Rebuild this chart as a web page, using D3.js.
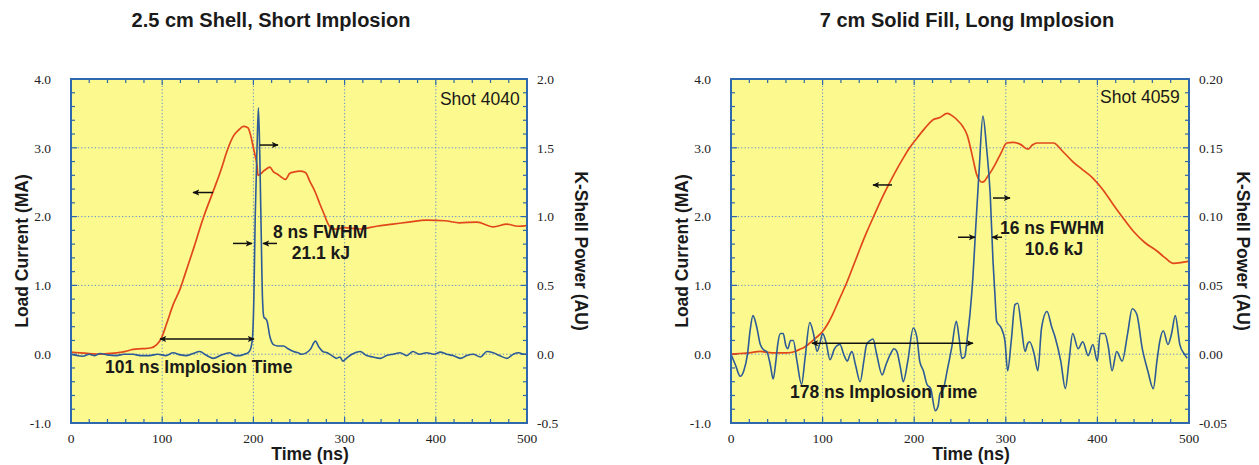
<!DOCTYPE html>
<html><head><meta charset="utf-8">
<script src="https://cdn.jsdelivr.net/npm/d3@7"></script>
<style>html,body{margin:0;padding:0;background:#fff;}svg{display:block;}</style>
</head><body>
<svg id="chart" width="1259" height="465"></svg>
<script>
// ---------------- DATA ----------------
const titles = ["2.5 cm Shell, Short Implosion", "7 cm Solid Fill, Long Implosion"];
const shotLabels = ["Shot 4040", "Shot 4059"];
const xTicks = [0, 100, 200, 300, 400, 500];
const xTickLabels = ["0", "100", "200", "300", "400", "500"];
const leftTicks = [-1, 0, 1, 2, 3, 4];
const leftTickLabels = ["-1.0", "0.0", "1.0", "2.0", "3.0", "4.0"];
const rightTicksA = [-0.5, 0, 0.5, 1.0, 1.5, 2.0];
const rightTickLabelsA = ["-0.5", "0.0", "0.5", "1.0", "1.5", "2.0"];
const rightTicksB = [-0.05, 0, 0.05, 0.10, 0.15, 0.20];
const rightTickLabelsB = ["-0.05", "0.00", "0.05", "0.10", "0.15", "0.20"];

// Shot 4040: load current (MA) vs time (ns)
const currentA = [[0,0.03],[10,0.02],[20,0.01],[30,0.0],[40,0.01],[50,0.02],[60,0.04],[68,0.07],[78,0.08],[87,0.09],
 [94,0.14],[99,0.23],[105,0.45],[112,0.72],[120,0.96],[125,1.16],[135,1.56],[145,1.98],[156,2.37],[165,2.70],
 [171,2.95],[178,3.17],[184,3.26],[189,3.31],[194,3.29],[197,3.18],[200,3.0],[202,2.88],[204,2.74],[205,2.60],
 [208,2.62],[211,2.66],[215,2.70],[218,2.72],[222,2.65],[226,2.62],[230,2.58],[235,2.54],[240,2.63],[245,2.65],
 [251,2.66],[257,2.64],[262,2.51],[268,2.35],[273,2.18],[278,2.02],[282,1.89],[287,1.82],[292,1.82],[300,1.84],
 [317,1.82],[335,1.86],[353,1.89],[370,1.92],[390,1.95],[410,1.94],[426,1.91],[445,1.92],[463,1.85],[478,1.89],
 [490,1.86],[500,1.87]];
// Shot 4040: K-shell power (AU)
const powerA = [[0,0.0],[6,-0.01],[13,-0.015],[20,0.0],[26,-0.01],[32,0.005],[40,-0.005],[50,-0.01],[58,0.0],[68,0.0],
 [76,-0.01],[86,-0.01],[95,0.0],[104,-0.01],[112,0.01],[120,-0.005],[127,-0.01],[134,0.005],[141,0.02],[149,-0.01],
 [156,-0.03],[165,-0.005],[174,0.01],[180,-0.01],[185,-0.01],[190,0.0],[194,0.01],[197,0.04],[199,0.12],[200.5,0.4],
 [202,1.0],[204,1.5],[205.5,1.79],[207,1.45],[208.5,0.9],[210,0.4],[211.5,0.27],[213,0.26],[215,0.24],[218,0.13],
 [222,0.07],[227,0.06],[233,0.06],[238,0.04],[244,0.02],[249,0.01],[253,0.0],[258,0.01],[263,0.04],[266,0.08],
 [268,0.095],[272,0.05],[276,0.02],[281,0.01],[286,-0.01],[291,-0.03],[295,-0.02],[298,-0.05],[302,-0.03],[308,0.0],
 [317,0.02],[324,-0.01],[331,-0.02],[339,-0.03],[346,-0.01],[353,0.0],[361,0.01],[368,-0.01],[375,0.02],[382,0.0],
 [390,0.01],[398,0.0],[405,0.015],[412,0.0],[419,-0.01],[427,-0.03],[434,-0.01],[441,0.0],[449,-0.02],[456,0.02],
 [463,0.01],[470,-0.01],[478,-0.03],[485,0.0],[491,0.01],[496,0.0],[500,0.0]];

// Shot 4059: load current (MA)
const currentB = [[0,0.0],[10,0.01],[20,0.02],[32,0.04],[45,0.02],[61,0.02],[70,0.04],[75,0.07],[80,0.10],[86,0.16],
 [93,0.24],[100,0.33],[106,0.45],[111,0.58],[118,0.79],[127,1.06],[134,1.30],[141,1.54],[148,1.77],[155,1.98],
 [162,2.19],[170,2.41],[179,2.64],[188,2.85],[195,3.00],[203,3.14],[212,3.29],[221,3.41],[228,3.44],[236,3.50],
 [242,3.46],[248,3.39],[253,3.31],[258,3.18],[264,2.85],[268,2.62],[271,2.53],[274,2.50],[277,2.52],[280,2.58],
 [285,2.68],[290,2.80],[295,2.93],[301,3.07],[308,3.08],[316,3.05],[324,2.98],[329,3.04],[334,3.07],[343,3.07],
 [352,3.07],[362,2.95],[373,2.80],[384,2.68],[395,2.56],[406,2.39],[417,2.18],[428,1.98],[439,1.79],[452,1.62],
 [465,1.50],[474,1.40],[483,1.32],[491,1.33],[499,1.35]];
// Shot 4059: K-shell power (AU)
const powerB = [[0,0.0],[5,-0.008],[10,-0.016],[14,-0.012],[18,0.0],[21,0.018],[24,0.028],[28,0.02],[32,0.007],[36,0.003],
 [39,0.002],[43,-0.008],[46,-0.018],[49,-0.005],[51,0.007],[54,0.015],[57,0.015],[60,0.006],[62,0.004],[65,0.01],
 [68,0.01],[72,-0.005],[77,-0.022],[81,-0.002],[86,0.023],[90,0.015],[94,0.002],[97,0.008],[100,0.015],[104,0.008],
 [108,-0.004],[113,0.004],[119,0.007],[123,0.0],[127,-0.005],[130,0.0],[132,0.002],[136,-0.008],[141,-0.02],[145,-0.005],
 [148,0.007],[152,0.01],[155,0.011],[159,0.0],[165,-0.015],[169,-0.008],[174,0.0],[178,0.004],[181,0.002],[185,-0.01],
 [188,-0.02],[193,-0.005],[199,0.019],[203,0.012],[206,-0.005],[210,-0.012],[214,-0.022],[218,-0.025],[223,-0.041],[226,-0.038],
 [228,-0.029],[232,-0.025],[236,-0.012],[241,0.005],[246,0.024],[249,0.012],[252,-0.003],[255,-0.002],[258,0.012],[261,0.03],
 [264,0.055],[267,0.09],[271,0.135],[275,0.173],[279,0.15],[283,0.116],[286,0.068],[288,0.045],[290,0.024],[295,0.019],
 [299,0.01],[302,-0.012],[306,0.01],[310,0.036],[313,0.037],[317,0.02],[321,0.002],[324,0.008],[326,0.009],[331,0.0],
 [335,-0.012],[339,0.019],[345,0.031],[350,0.02],[354,0.012],[360,-0.005],[365,-0.025],[369,-0.005],[373,0.015],[379,0.004],
 [384,0.009],[390,-0.001],[395,0.007],[400,-0.005],[403,0.015],[408,0.015],[412,0.005],[416,-0.012],[421,0.002],[427,-0.005],
 [433,0.015],[438,0.033],[443,0.029],[449,0.004],[455,-0.012],[461,-0.025],[465,-0.005],[468,0.009],[472,0.017],[477,0.007],
 [481,0.015],[485,0.028],[490,0.007],[495,0.0],[498,-0.003]];

// annotations in data units (time ns, load-current axis units)
const annotA = {
  arrows: [ {t1:155.7,t2:133.8,v:2.35,both:false}, {t1:207,t2:227,v:3.04,both:false},
            {t1:177.6,t2:198.5,v:1.61,both:false}, {t1:225.9,t2:210.5,v:1.61,both:false},
            {t1:97.6,t2:200.7,v:0.22,both:true} ],
  texts: [ {t:221.5,v:1.69,s:"8 ns FWHM",a:"start"}, {t:274,v:1.39,s:"21.1 kJ",a:"middle"},
           {t:37.3,v:-0.28,s:"101 ns Implosion Time",a:"start"} ],
  shot: {t:492,v:3.62}
};
const annotB = {
  arrows: [ {t1:175.8,t2:155,v:2.46,both:false}, {t1:286,t2:304.6,v:2.27,both:false},
            {t1:247.8,t2:266.4,v:1.70,both:false}, {t1:295.9,t2:285,v:1.70,both:false},
            {t1:88.4,t2:264.2,v:0.16,both:true} ],
  texts: [ {t:293.7,v:1.75,s:"16 ns FWHM",a:"start"}, {t:352.6,v:1.44,s:"10.6 kJ",a:"middle"},
           {t:64.4,v:-0.64,s:"178 ns Implosion Time",a:"start"} ],
  shot: {t:490,v:3.65}
};

// ---------------- DRAW ----------------
const svg = d3.select("#chart");
const defs = svg.append("defs");
defs.append("marker").attr("id","ah").attr("viewBox","0 0 10 10").attr("refX",9).attr("refY",5)
  .attr("markerWidth",7).attr("markerHeight",7).attr("markerUnits","userSpaceOnUse").attr("orient","auto-start-reverse")
  .append("path").attr("d","M0,0.5 L10,5 L0,9.5 L2.5,5 Z").attr("fill","#111");

const sans = "'Liberation Sans', Arial, Helvetica, sans-serif";
const serif = "'Liberation Serif', 'Times New Roman', serif";
const YEL = "#fcf98e", BORDER = "#2f68ad", GRID = "#5a8dcc", RED = "#e0481c", BLUE = "#2d5b97";

function panel(cfg) {
  const x = d3.scaleLinear().domain([0,500]).range([cfg.x0, cfg.x1]);
  const y = d3.scaleLinear().domain([-1,4]).range([423,79]);
  const yr = d3.scaleLinear().domain(cfg.rDomain).range([423,79]);
  const g = svg.append("g");

  g.append("rect").attr("x",x(0)).attr("y",y(4)).attr("width",x(500)-x(0)).attr("height",y(-1)-y(4)).attr("fill",YEL);

  // grid
  const gx = [100,200,300,400], gy = [0,1,2,3];
  g.selectAll(".gx").data(gx).join("line").attr("x1",d=>x(d)).attr("x2",d=>x(d)).attr("y1",y(4)).attr("y2",y(-1))
    .attr("stroke",GRID).attr("stroke-width",1).attr("stroke-dasharray","1.2,2.2");
  g.selectAll(".gy").data(gy).join("line").attr("y1",d=>y(d)).attr("y2",d=>y(d)).attr("x1",x(0)).attr("x2",x(500))
    .attr("stroke",GRID).attr("stroke-width",1).attr("stroke-dasharray","1.2,2.2");

  // minor ticks
  const xm = d3.range(20,500,20);
  const ym = d3.range(-0.8,4,0.2);
  const tk = g.append("g").attr("stroke",BORDER).attr("stroke-width",1.2);
  xm.forEach(d=>{
    const L = d%100===0?6:4;
    tk.append("line").attr("x1",x(d)).attr("x2",x(d)).attr("y1",y(-1)).attr("y2",y(-1)-L);
    tk.append("line").attr("x1",x(d)).attr("x2",x(d)).attr("y1",y(4)).attr("y2",y(4)+L);
  });
  ym.forEach(d=>{
    const L = Math.abs(d-Math.round(d))<1e-6?6:4;
    tk.append("line").attr("y1",y(d)).attr("y2",y(d)).attr("x1",x(0)).attr("x2",x(0)+L);
    tk.append("line").attr("y1",y(d)).attr("y2",y(d)).attr("x1",x(500)).attr("x2",x(500)-L);
  });

  // curves
  const lineL = d3.line().x(d=>x(d[0])).y(d=>y(d[1])).curve(d3.curveMonotoneX);
  const lineR = d3.line().x(d=>x(d[0])).y(d=>yr(d[1])).curve(d3.curveMonotoneX);
  g.append("path").attr("d",lineL(cfg.current)).attr("fill","none").attr("stroke",RED).attr("stroke-width",1.7);
  g.append("path").attr("d",lineR(cfg.power)).attr("fill","none").attr("stroke",BLUE).attr("stroke-width",1.6);

  // border
  g.append("rect").attr("x",x(0)).attr("y",y(4)).attr("width",x(500)-x(0)).attr("height",y(-1)-y(4))
    .attr("fill","none").attr("stroke",BORDER).attr("stroke-width",2);

  // tick labels
  g.selectAll(".xl").data(xTicks).join("text").attr("x",d=>x(d)).attr("y",443).attr("text-anchor","middle")
    .attr("font-family",serif).attr("font-size",13.5).attr("fill","#222").text((d,i)=>xTickLabels[i]);
  g.selectAll(".yl").data(leftTicks).join("text").attr("x",x(0)-20).attr("y",d=>y(d)).attr("dy","0.35em")
    .attr("text-anchor","end").attr("font-family",serif).attr("font-size",13.5).attr("fill","#222").text((d,i)=>leftTickLabels[i]);
  g.selectAll(".yr").data(cfg.rTicks).join("text").attr("x",x(500)+10).attr("y",d=>yr(d)).attr("dy","0.35em")
    .attr("text-anchor","start").attr("font-family",serif).attr("font-size",13.5).attr("fill","#222").text((d,i)=>cfg.rLabels[i]);

  // titles
  g.append("text").attr("x",cfg.titleX).attr("y",27).attr("text-anchor","middle").attr("font-family",sans)
    .attr("font-weight","bold").attr("font-size",20).attr("fill","#1a1a1a").text(cfg.title);
  g.append("text").attr("x",x(250)+11).attr("y",460).attr("text-anchor","middle").attr("font-family",sans)
    .attr("font-weight","bold").attr("font-size",17.5).attr("fill","#1a1a1a").text("Time (ns)");
  g.append("text").attr("transform",`translate(${x(0)-49},${y(1.5)}) rotate(-90)`).attr("text-anchor","middle")
    .attr("dy","0.35em").attr("font-family",sans).attr("font-weight","bold").attr("font-size",17.5).attr("fill","#1a1a1a")
    .text("Load Current (MA)");
  g.append("text").attr("transform",`translate(${x(500)+54},${y(1.5)}) rotate(90)`).attr("text-anchor","middle")
    .attr("dy","0.35em").attr("font-family",sans).attr("font-weight","bold").attr("font-size",17.5).attr("fill","#1a1a1a")
    .text("K-Shell Power (AU)");

  // annotations
  cfg.annot.arrows.forEach(a=>{
    const l = g.append("line").attr("x1",x(a.t1)).attr("x2",x(a.t2)).attr("y1",y(a.v)).attr("y2",y(a.v))
      .attr("stroke","#111").attr("stroke-width",1.5).attr("marker-end","url(#ah)");
    if (a.both) l.attr("marker-start","url(#ah)");
  });
  cfg.annot.texts.forEach(t=>{
    g.append("text").attr("x",x(t.t)).attr("y",y(t.v)).attr("text-anchor",t.a).attr("font-family",sans)
      .attr("font-weight","bold").attr("font-size",17.5).attr("fill","#1a1a1a").text(t.s);
  });
  g.append("text").attr("x",x(cfg.annot.shot.t)).attr("y",y(cfg.annot.shot.v)).attr("text-anchor","end")
    .attr("font-family",sans).attr("font-size",17.5).attr("fill","#1a1a1a").text(cfg.shot);
}

panel({x0:71, x1:527, rDomain:[-0.5,2.0], rTicks:rightTicksA, rLabels:rightTickLabelsA,
  current:currentA, power:powerA, annot:annotA, title:titles[0], titleX:271, shot:shotLabels[0]});
panel({x0:731, x1:1189, rDomain:[-0.05,0.20], rTicks:rightTicksB, rLabels:rightTickLabelsB,
  current:currentB, power:powerB, annot:annotB, title:titles[1], titleX:967, shot:shotLabels[1]});
</script>
</body></html>
